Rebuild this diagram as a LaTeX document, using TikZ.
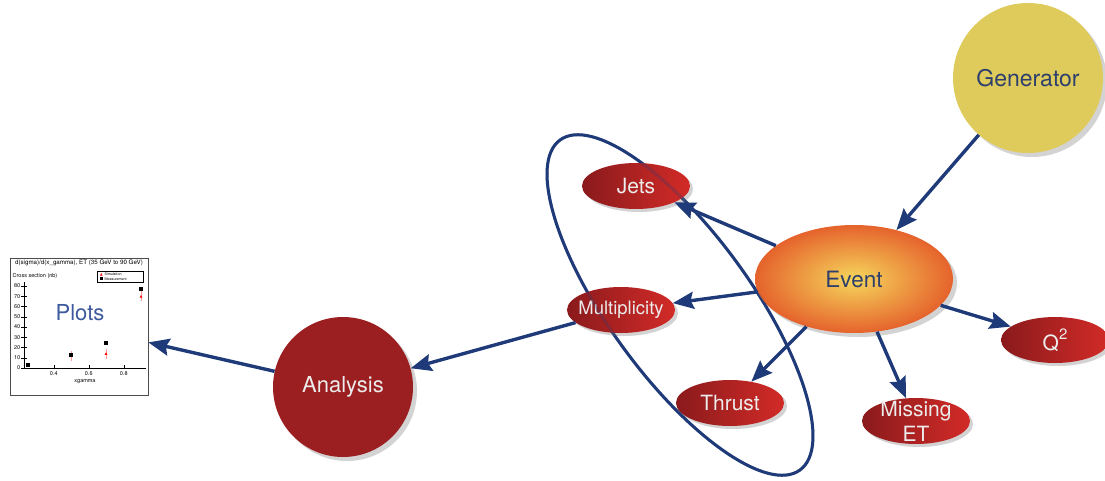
\documentclass[tikz,border=0pt]{standalone}
\usepackage{fontspec}
\setmainfont{TeX Gyre Heros}
\usetikzlibrary{arrows.meta,shadows,backgrounds,shapes.geometric}

\definecolor{navy}{HTML}{1F3A78}
\definecolor{darkred}{HTML}{8A1A1C}
\definecolor{brightred}{HTML}{D22B27}
\definecolor{genyellow}{HTML}{DECB5B}
\definecolor{anared}{HTML}{9B1E20}
\definecolor{labelblue}{HTML}{2E3F6B}
\definecolor{plotblue}{HTML}{3D5A9E}
\definecolor{eventcore}{HTML}{F6D65C}
\definecolor{eventrim}{HTML}{E5632C}

\begin{document}
\begin{tikzpicture}[
                x=1pt, y=1pt,
                every node/.style={font=\fontsize{21}{25}\selectfont},
                rednode/.style={ellipse, draw=none, left color=darkred, right color=brightred, minimum width=108, minimum height=46, inner sep=0pt, drop shadow={shadow xshift=3pt, shadow yshift=-3pt, opacity=0.35}},
                redtext/.style={text=gray!15, inner sep=0pt, align=center},
                bigcircle/.style={circle, inner sep=0pt, drop shadow={shadow xshift=4pt, shadow yshift=-4pt, opacity=0.35}},
                pointer/.style={-{Stealth[length=21pt, width=17pt, inset=3pt]}, line width=3.4pt, draw=navy},
                ring/.style={line width=3pt, draw=navy},
                tiny/.style={font=\fontsize{5.5}{6}\selectfont, inner sep=0.5pt}
            ]
                \useasboundingbox (0,0) rectangle (1105,480);

                % Source and event
                \node[bigcircle, fill=genyellow, minimum size=150, text=labelblue, font=\fontsize{23}{27}\selectfont] (gen) at (1028,402) {Generator};
                \node[ellipse, inner color=eventcore, outer color=eventrim, minimum width=198, minimum height=108, inner sep=0pt, text=labelblue, font=\fontsize{22.5}{26}\selectfont, drop shadow={shadow xshift=4pt, shadow yshift=-4pt, opacity=0.35}] (event) at (854,201) {Event};

                % Observables
                \node[rednode, label={[redtext]center:Jets}] (jets) at (636,294) {};
                \node[rednode, label={[redtext, font=\fontsize{18.5}{22}\selectfont]center:Multiplicity}] (mult) at (621,170) {};
                \node[rednode, label={[redtext]center:Thrust}] (thrust) at (730,77) {};
                \node[rednode, label={[redtext]center:Missing\\ET}] (miss) at (916,59) {};
                \node[rednode, label={[redtext]center:Q\raisebox{0.5em}{\fontsize{15}{15}\selectfont 2}}] (q2) at (1055,140) {};

                % Analysis
                \node[bigcircle, fill=anared, minimum size=140, text=gray!15, font=\fontsize{22}{26}\selectfont] (ana) at (343,93) {Analysis};

                % Plot thumbnail
                \node[rectangle, draw=gray!60!black, fill=white, line width=0.8pt, minimum width=138, minimum height=137] (plots) at (79,153.5) {};
                \node[tiny, font=\fontsize{6.2}{7}\selectfont] at (79,217) {d(sigma)/d(x\_gamma), ET (35 GeV to 90 GeV)};
                \node[tiny, anchor=west] at (12,204) {Cross section (nb)};
                \draw[line width=0.4pt] (24,198) -- (24,112) -- (146,112);
                \foreach \yv in {0,10,...,80} {
                    \draw[line width=0.4pt] (21,112+\yv*1.025) -- (27,112+\yv*1.025);
                    \node[tiny, anchor=east] at (21,112+\yv*1.025) {\yv};
                }
                \foreach \xv in {0.4,0.6,0.8} {
                    \draw[line width=0.4pt] (24+\xv*175-40.25,112) -- (24+\xv*175-40.25,115);
                    \node[tiny] at (24+\xv*175-40.25,106) {\xv};
                }
                \node[tiny] at (85,98) {xgamma};
                \draw[line width=0.4pt] (97,198) rectangle (143,209);
                \fill[red] (100,204.5) -- (102.5,204.5) -- (101.25,207) -- cycle;
                \node[tiny, font=\fontsize{3.6}{4}\selectfont, anchor=west] at (104,205.7) {Simulation};
                \fill[black] (99.8,199.8) rectangle (102.6,202.6);
                \node[tiny, font=\fontsize{3.6}{4}\selectfont, anchor=west] at (104,201.2) {Measurement};
                % Simulation points
                \foreach \px/\py in {71/124.3, 106/126.3, 141/183.7} {
                    \draw[red!40, line width=0.5pt] (\px,\py-5) -- (\px,\py+5);
                    \fill[red] (\px-1.4,\py-1.2) -- (\px+1.4,\py-1.2) -- (\px,\py+1.4) -- cycle;
                }
                % Measurement points
                \foreach \px/\py in {28/115, 71/125.3, 106/136.6, 141/191} {
                    \fill[black] (\px-2,\py-2) rectangle (\px+2,\py+2);
                }
                \node[text=plotblue, font=\fontsize{22}{26}\selectfont] (plotlabel) at (80,167) {Plots};

                % Ring round the observables
                \begin{scope}[on background layer]
                    \draw[ring, rotate around={-54:(680,175)}] (680,175) ellipse [x radius=204, y radius=71];
                \end{scope}
                \draw[ring, opacity=0.25, rotate around={-54:(680,175)}] (680,175) ellipse [x radius=204, y radius=71];

                % Pointers
                \draw[pointer] (gen) -- (event);
                \draw[pointer] (event) -- (jets);
                \draw[pointer] (event) -- (mult);
                \draw[pointer] (event) -- (thrust);
                \draw[pointer] (event) -- (miss);
                \draw[pointer] (event) -- (q2);
                \draw[pointer] (mult) -- (ana);
                \draw[pointer] (ana) -- (plots);
            \end{tikzpicture}
\end{document}
